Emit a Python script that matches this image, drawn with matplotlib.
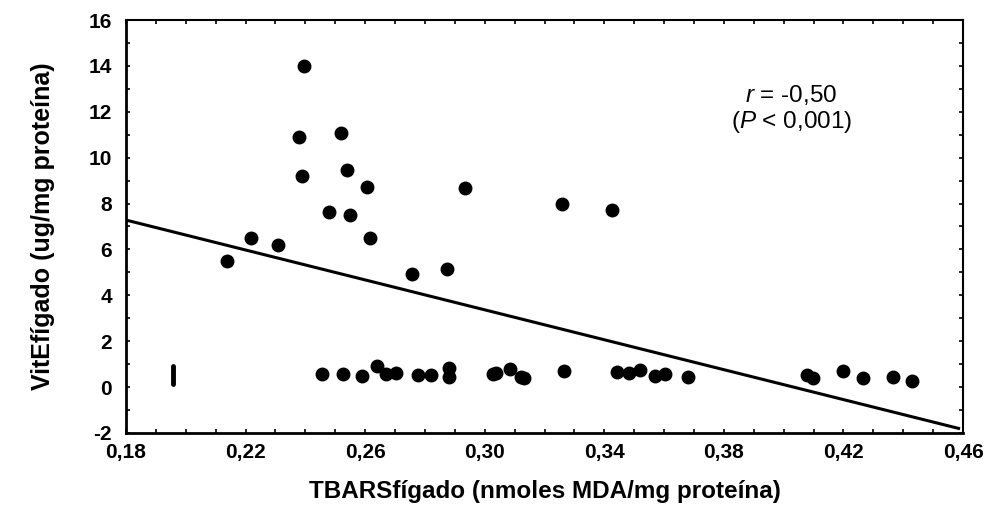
import matplotlib
matplotlib.use("Agg")
import matplotlib.pyplot as plt
import numpy as np
from matplotlib.ticker import FuncFormatter, MultipleLocator

plt.rcParams["font.family"] = ["Liberation Sans", "DejaVu Sans"]
plt.rcParams["mathtext.fontset"] = "custom"
plt.rcParams["mathtext.it"] = "Liberation Sans:italic"
plt.rcParams["mathtext.rm"] = "Liberation Sans"

# points
tbars = [
    0.2397, 0.2379, 0.2518, 0.2388, 0.2538, 0.2607, 0.2933, 0.2478, 0.2548,
    0.2616, 0.2218, 0.2307, 0.2139, 0.2756, 0.2873, 0.3259, 0.3426,
    0.2456, 0.2525, 0.2591, 0.2639, 0.2670, 0.2703, 0.2776, 0.2820, 0.2881,
    0.2881, 0.3027, 0.3038, 0.3085, 0.3120, 0.3132, 0.3266, 0.3442, 0.3481,
    0.3520, 0.3570, 0.3603, 0.3681, 0.4077, 0.4099, 0.4200, 0.4267, 0.4367,
    0.4431,
]
vite = [
    13.98, 10.90, 11.09, 9.20, 9.48, 8.71, 8.69, 7.62, 7.52,
    6.49, 6.49, 6.20, 5.50, 4.95, 5.13, 7.97, 7.72,
    0.57, 0.57, 0.48, 0.92, 0.56, 0.60, 0.53, 0.53, 0.82,
    0.45, 0.56, 0.60, 0.78, 0.45, 0.38, 0.70, 0.66, 0.63,
    0.75, 0.50, 0.57, 0.43, 0.52, 0.38, 0.72, 0.41, 0.44,
    0.25,
]

# stacked values drawn as a thick bar near x = 0.196
bar_x = [0.1957, 0.1957]
bar_y = [0.15, 0.92]

# regression line
fit_x = [0.18, 0.4585]
fit_y = [7.28, -1.80]

x_ticks = [0.18, 0.22, 0.26, 0.30, 0.34, 0.38, 0.42, 0.46]
y_ticks = [-2, 0, 2, 4, 6, 8, 10, 12, 14, 16]

fig = plt.figure(figsize=(9.93, 5.16), dpi=100)
ax = fig.add_axes([0.1269, 0.1609, 0.8429, 0.8003])

ax.plot(fit_x, fit_y, color="black", lw=2.2, zorder=2)
ax.plot(tbars, vite, "o", color="black", ms=9, zorder=3)
ax.plot(bar_x, bar_y, color="black", lw=3.5, solid_capstyle="round", zorder=3)

ax.set_xlim(0.18, 0.46)
ax.set_ylim(-2, 16)
ax.set_xticks(x_ticks)
ax.set_xticks(np.arange(0.18, 0.4601, 0.01), minor=True)
ax.set_yticks(y_ticks)
ax.yaxis.set_minor_locator(MultipleLocator(1))
ax.xaxis.set_major_formatter(FuncFormatter(lambda v, p: f"{v:.2f}".replace(".", ",")))
ax.yaxis.set_major_formatter(FuncFormatter(lambda v, p: f"{v:.0f}"))

ax.tick_params(which="both", direction="in", top=True, right=True,
               length=3, width=1.2, labelsize=15)
ax.tick_params(axis="x", pad=7)
ax.tick_params(axis="y", pad=10)
for lbl in ax.get_xticklabels() + ax.get_yticklabels():
    lbl.set_fontweight("bold")

for side in ["left", "bottom"]:
    ax.spines[side].set_linewidth(2)
for side in ["top", "right"]:
    ax.spines[side].set_linewidth(1.5)

ax.set_xlabel("TBARSfígado (nmoles MDA/mg proteína)", fontsize=17.5,
              fontweight="bold", labelpad=13)
ax.set_ylabel("VitEfígado (ug/mg proteína)", fontsize=18,
              fontweight="bold", labelpad=24)

ax.text(0.4025, 12.74, r"$\it{r}$ = -0,50", fontsize=17.5, ha="center", va="center")
ax.text(0.4025, 11.56, r"($\it{P}$ < 0,001)", fontsize=17.5, ha="center", va="center")

fig.savefig("out.png", dpi=100)
